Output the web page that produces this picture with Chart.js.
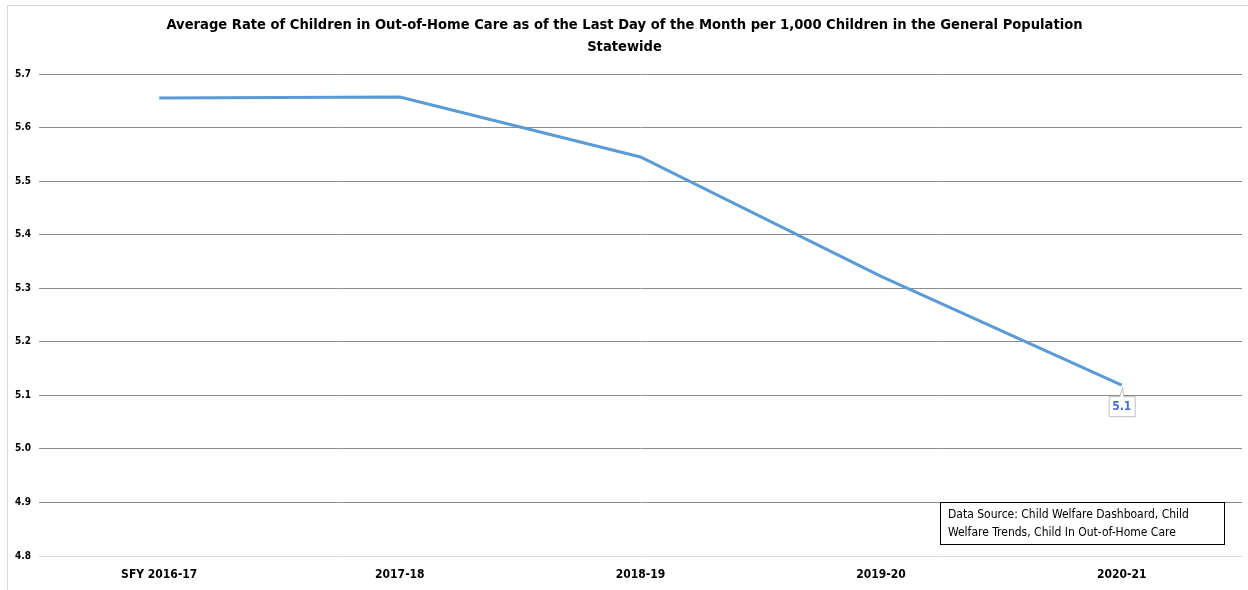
<!DOCTYPE html>
<html>
<head>
<meta charset="utf-8">
<script src="https://cdn.jsdelivr.net/npm/chart.js@4"></script>
<style>
  html, body { margin: 0; padding: 0; background: #fff; overflow: hidden; }
  #wrap { position: relative; width: 1248px; height: 590px; }
</style>
</head>
<body>
<div id="wrap"><canvas id="grafico" width="1248" height="590"></canvas></div>
<script>
const ctx = document.getElementById('grafico')

// dados
const labels = ['SFY 2016-17', '2017-18', '2018-19', '2019-20', '2020-21']
const rates = [5.655, 5.657, 5.545, 5.322, 5.119]
const lastLabel = '5.1'
const titleLines = ['Average Rate of Children in Out-of-Home Care as of the Last Day of the Month per 1,000 Children in the General Population', 'Statewide']
const sourceLines = ['Data Source: Child Welfare Dashboard, Child', 'Welfare Trends, Child In Out-of-Home Care']

const FONT = '"Liberation Sans Narrow", "DejaVu Sans Condensed", "Liberation Sans", sans-serif'

Chart.defaults.font.family = FONT
Chart.defaults.color = '#000'

// moldura, rótulo do último ponto e caixa da fonte
const extras = {
  id: 'extras',
  beforeDraw(chart) {
    const c = chart.ctx
    c.save()
    c.strokeStyle = '#d9d9d9'
    c.lineWidth = 1
    c.strokeRect(7.5, 5.5, 1260, 600)
    c.restore()
  },
  afterDatasetsDraw(chart) {
    const c = chart.ctx
    const meta = chart.getDatasetMeta(0)
    const p = meta.data[meta.data.length - 1]
    c.save()
    // callout
    const bx = p.x - 13, by = p.y + 11, bw = 26, bh = 20
    c.fillStyle = '#fff'
    c.strokeStyle = '#bfbfbf'
    c.lineWidth = 1
    c.beginPath()
    c.moveTo(bx + 0.5, by + 0.5)
    c.lineTo(p.x - 2, by + 0.5)
    c.lineTo(p.x + 1, p.y + 2)
    c.lineTo(p.x + 2, by + 0.5)
    c.lineTo(bx + bw + 0.5, by + 0.5)
    c.lineTo(bx + bw + 0.5, by + bh + 0.5)
    c.lineTo(bx + 0.5, by + bh + 0.5)
    c.closePath()
    c.fill()
    c.stroke()
    c.fillStyle = '#4472C4'
    c.font = 'bold 12px ' + FONT
    c.textAlign = 'center'
    c.textBaseline = 'middle'
    c.fillText(lastLabel, p.x, by + bh / 2 + 1)

    // caixa da fonte dos dados
    c.fillStyle = '#fff'
    c.fillRect(940, 502, 284, 42)
    c.strokeStyle = '#000'
    c.strokeRect(940.5, 502.5, 284, 42)
    c.fillStyle = '#000'
    c.font = '12px ' + FONT
    c.textAlign = 'left'
    c.textBaseline = 'middle'
    c.fillText(sourceLines[0], 948, 515)
    c.fillText(sourceLines[1], 948, 533)
    c.restore()
  }
}

const config = {
  type: 'line',
  data: {
    labels,
    datasets: [{
      data: rates,
      borderColor: '#5B9BD5',
      borderWidth: 3,
      pointRadius: 0,
      tension: 0
    }]
  },
  options: {
    responsive: false,
    animation: false,
    layout: { padding: { left: 7, right: 6, top: 4, bottom: 4 } },
    plugins: {
      legend: { display: false },
      tooltip: { enabled: false },
      title: {
        display: true,
        text: titleLines,
        font: { size: 14.6, weight: 'bold', family: FONT, lineHeight: '22px' },
        color: '#000',
        padding: { top: 10, bottom: 16 }
      }
    },
    scales: {
      x: {
        offset: true,
        grid: { display: false, drawTicks: false },
        border: { display: false },
        ticks: { font: { size: 12, weight: 'bold' }, color: '#000', padding: 12 },
        afterFit: (scale) => { scale.height = 30 }
      },
      y: {
        min: 4.8,
        max: 5.7,
        grid: {
          color: (c) => c.tick && c.tick.value === 4.8 ? '#d9d9d9' : '#8c8c8c',
          drawTicks: false
        },
        border: { display: false },
        ticks: {
          stepSize: 0.1,
          font: { size: 10, weight: 'bold' },
          color: '#000',
          padding: 8,
          callback: (v) => v.toFixed(1)
        }
      }
    }
  },
  plugins: [extras]
}

const graph = new Chart(ctx, config)
</script>
</body>
</html>
